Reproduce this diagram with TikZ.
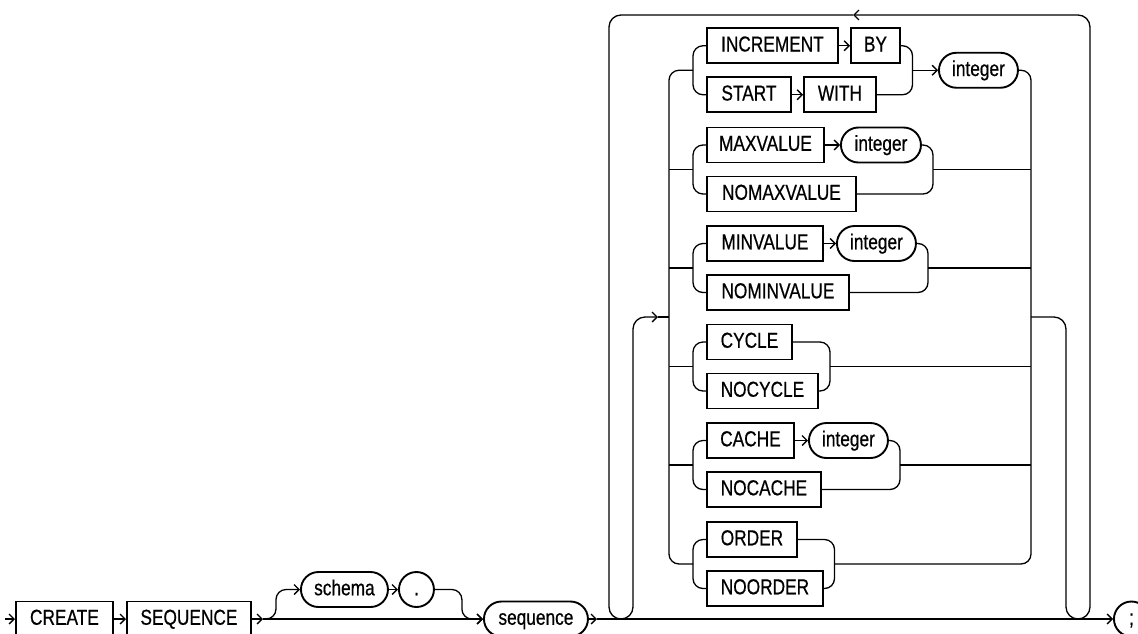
\documentclass[tikz,border=0pt]{standalone}
\usepackage{fontspec}
\setmainfont{Liberation Sans}[FakeStretch=0.8,FakeBold=0.6]
\usetikzlibrary{arrows.meta,positioning,calc}
\tikzset{
  kw/.style={draw, line width=1.9pt, anchor=west, minimum height=35pt,
    inner xsep=12pt, inner ysep=0pt, text height=15.5pt, text depth=4pt,
    font=\fontsize{21.6}{24}\selectfont},
  var/.style={kw, rounded corners=17.5pt},
  punct/.style={var, minimum width=35pt, inner xsep=0pt},
  rail/.style={line width=1.3pt, rounded corners=10pt},
  flow/.style={rail, -{Straight Barb[length=5pt,width=10pt]}},
}

\begin{document}
\begin{tikzpicture}[x=1pt,y=-1pt]
  \useasboundingbox (0,0) rectangle (1138,633);
  % main line
  \coordinate (start) at (5,619);
  \node[kw, minimum width=97pt] (create) at (15,619) {CREATE};
  \node[kw, minimum width=124pt] (seqkw) at (126,619) {SEQUENCE};
  \node[var, minimum width=87pt] (schema) at (300,589.5) {schema};
  \node[punct] (dot) at (398,589.5) {.};
  \node[var, minimum width=104pt] (seqname) at (483,619) {sequence};
  \node[punct] (semi) at (1113,619) {;};
  \coordinate (fork0) at (263,619);
  \coordinate (seqout) at (597,619);
  \draw[flow] (start) -- (create.west);
  \draw[flow] (create.east) -- (seqkw.west);
  \draw[flow] (seqkw.east) -- (fork0);
  \draw[flow] (fork0) -- (seqname.west);
  \draw[flow] (fork0) -- ++(13,0) |- (schema.west);
  \draw[flow] (schema.east) -- (dot.west);
  \draw[flow] (dot.east) -- ++(27,0) |- (seqname.west);
  \draw[flow] (seqname.east) -- (seqout);
  \draw[flow] (seqout) -- (semi.west);

  % options
  \node[kw, minimum width=131pt] (increment) at (706,45.75) {INCREMENT};
  \node[kw, minimum width=49pt] (by) at (850,45.75) {BY};
  \node[kw, minimum width=84pt] (start) at (706,94.75) {START};
  \node[kw, minimum width=72pt] (with) at (803,94.75) {WITH};
  \node[var, minimum width=79pt] (int1) at (938,70.25) {integer};
  \node[kw, minimum width=117pt] (maxv) at (706,145) {MAXVALUE};
  \node[var, minimum width=80pt] (int2) at (840,145) {integer};
  \node[kw, minimum width=149pt] (nomaxv) at (706,194) {NOMAXVALUE};
  \node[kw, minimum width=116pt] (minv) at (706,243.5) {MINVALUE};
  \node[var, minimum width=79pt] (int3) at (836,243.5) {integer};
  \node[kw, minimum width=142pt] (nominv) at (706,292.5) {NOMINVALUE};
  \node[kw, minimum width=85pt] (cycle) at (706,342) {CYCLE};
  \node[kw, minimum width=111pt] (nocycle) at (706,391) {NOCYCLE};
  \node[kw, minimum width=87pt] (cache) at (706,440.5) {CACHE};
  \node[var, minimum width=79pt] (int5) at (808,440.5) {integer};
  \node[kw, minimum width=114pt] (nocache) at (706,489.5) {NOCACHE};
  \node[kw, minimum width=90pt] (order) at (706,539.5) {ORDER};
  \node[kw, minimum width=116pt] (noorder) at (706,588.5) {NOORDER};
  \draw[flow] (increment.east) -- (by.west);
  \draw[flow] (start.east) -- (with.west);
  \draw[flow] (maxv.east) -- (int2.west);
  \draw[flow] (minv.east) -- (int3.west);
  \draw[flow] (cache.east) -- (int5.west);

  % forks and merges
  \foreach \n/\u/\l/\ue/\le/\g/\mx in {
      1/increment/start/by/with/70.25/912.5,
      2/maxv/nomaxv/int2/nomaxv/169.5/933,
      3/minv/nominv/int3/nominv/268/928,
      4/cycle/nocycle/cycle/nocycle/366.5/830,
      5/cache/nocache/int5/nocache/465/900,
      6/order/noorder/order/noorder/564/834.5} {
    \coordinate (f\n) at (693,\g);
    \coordinate (m\n) at (\mx,\g);
    \draw[rail] (\u.west) -| (f\n) |- (\l.west);
    \draw[rail] (\ue.east) -| (m\n) |- (\le.east);
  }
  \draw[flow] (m1) -- (int1.west);

  % collectors
  \coordinate (ltop) at (669,70.25);
  \coordinate (lbot) at (669,564);
  \coordinate (rtop) at (1031,70.25);
  \coordinate (rbot) at (1031,564);
  \draw[rail] (f1) -- (ltop) -- (lbot) -- (f6);
  \draw[rail] (int1.east) -- (rtop) -- (rbot) -- (m6);
  \foreach \n in {2,...,5} {
    \draw[rail] (ltop |- f\n) -- (f\n);
    \draw[rail] (m\n) -- (rtop |- m\n);
  }

  % repeat loop
  \coordinate (rout) at (1031,317);
  \coordinate (lin) at (669,317);
  \coordinate (back) at (853,15);
  \coordinate (inarr) at (658,317);
  \draw[flow, rounded corners=12pt] (rout) -- (1066,317) -- (1066,619)
      -- (1090,619) -- (1090,15) -- (back);
  \draw[flow, rounded corners=12pt] (back) -- (609,15) -- (609,619)
      -- (633,619) -- (633,317) -- (inarr);
  \draw[rail] (inarr) -- (lin);
\end{tikzpicture}
\end{document}
